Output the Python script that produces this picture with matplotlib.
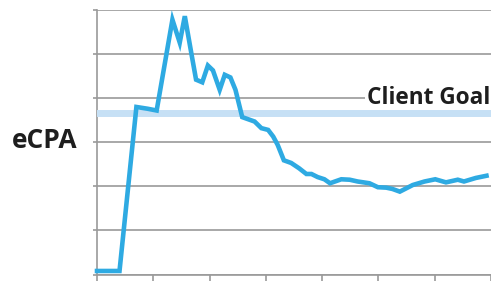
import matplotlib
matplotlib.use("Agg")
import matplotlib.pyplot as plt

# Data (x = period index, y = eCPA in grid units)
days = [0, 4, 7, 9, 10.6, 13.4, 14.7, 15.6, 16.8, 17.6, 18.7, 19.7, 20.6, 21.8, 22.7, 23.7,
        24.6, 25.8, 28, 29.2, 30.4, 31.3, 32.1, 33.2, 34.5, 35.9, 37.2, 38.1, 39.2, 40.4,
        41.4, 43.4, 44.9, 46.3, 48.4, 49.9, 51.4, 52.5, 53.8, 56.1, 58.2, 60.1, 62, 64.1,
        65.2, 67.3, 69.2]
ecpa = [0.08, 0.08, 3.80, 3.76, 3.72, 5.78, 5.26, 5.86, 4.99, 4.42, 4.36, 4.74, 4.63, 4.19,
        4.53, 4.47, 4.19, 3.57, 3.47, 3.32, 3.28, 3.13, 2.94, 2.59, 2.53, 2.41, 2.28, 2.28,
        2.21, 2.16, 2.07, 2.16, 2.15, 2.11, 2.07, 1.98, 1.97, 1.94, 1.88, 2.03, 2.11, 2.16,
        2.09, 2.15, 2.11, 2.19, 2.24]
client_goal = 3.66
y_label = "eCPA"
goal_label = "Client Goal"

plt.rcParams['font.family'] = ['Open Sans', 'DejaVu Sans']

fig = plt.figure(figsize=(4.91, 2.81), dpi=100)
ax = fig.add_axes([97/491, (281-274.5)/281, 1 - 97/491, (274.5-10)/281])

ax.set_xlim(0, 70)
ax.set_ylim(0, 6)
ax.set_yticks(range(0, 7))
ax.set_xticks(range(0, 71, 10))
ax.set_yticklabels([])
ax.set_xticklabels([])
ax.grid(axis='y', color='#9a9a9a', linewidth=1.2, zorder=0)
for s in ['top', 'right']:
    ax.spines[s].set_visible(False)
for s in ['left', 'bottom']:
    ax.spines[s].set_color('#9a9a9a')
    ax.spines[s].set_linewidth(1.2)
ax.tick_params(axis='x', direction='out', length=4, color='#9a9a9a', width=1.2)
ax.tick_params(axis='y', direction='out', length=3, color='#9a9a9a', width=1.2)

ax.axhline(client_goal, color='#c6e0f5', linewidth=5, zorder=5)
ax.plot(days, ecpa, color='#2eaae2', linewidth=3.3, solid_joinstyle='miter', zorder=6, clip_on=False)

ax.text(47.9, 4.0, goal_label, fontsize=16.3, fontweight='bold', color='#1e1e1e',
        ha='left', va='center', zorder=4, clip_on=False,
        bbox=dict(facecolor='white', edgecolor='none', pad=1.5))

fig.text(45/491, (281-141)/281, y_label, fontsize=19, fontweight='bold', color='#1e1e1e',
         ha='center', va='center')

fig.savefig("out.png", dpi=100)
